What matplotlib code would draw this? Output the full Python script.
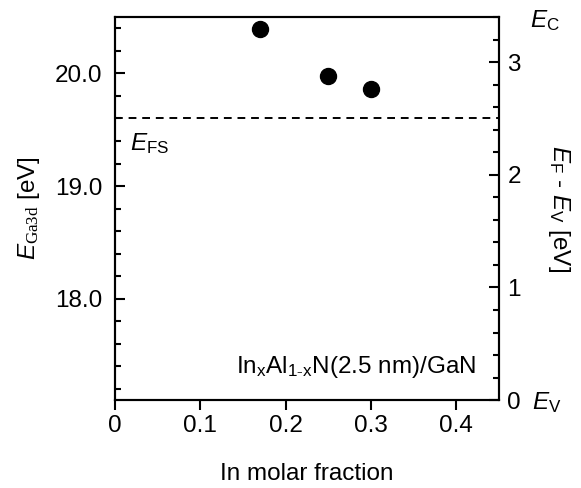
import matplotlib
matplotlib.use("Agg")
import matplotlib.pyplot as plt
from matplotlib.ticker import MultipleLocator

plt.rcParams['font.family'] = ['Liberation Sans', 'DejaVu Sans']
plt.rcParams['mathtext.fontset'] = 'custom'
plt.rcParams['mathtext.it'] = 'Liberation Sans:italic'
plt.rcParams['mathtext.sf'] = 'Liberation Sans'
plt.rcParams['mathtext.rm'] = 'Liberation Serif'

# data
in_fraction = [0.17, 0.25, 0.30]
e_ga3d = [20.39, 19.98, 19.865]
e_fs = 19.6
offset = 17.1  # E_Ga3d value corresponding to E_V (0 eV)
x_ticks = [0, 0.1, 0.2, 0.3, 0.4]
x_ticklabels = ['0', '0.1', '0.2', '0.3', '0.4']
left_ticks = [18.0, 19.0, 20.0]
right_ticks = [0, 1, 2, 3]

fs = 17.5

fig = plt.figure(figsize=(5.81, 4.88), dpi=100)
ax = fig.add_axes([0.198, 0.180, 0.661, 0.785])

ax.plot(in_fraction, e_ga3d, 'o', color='black', markersize=11.5)
ax.axhline(e_fs, color='black', linestyle='--', linewidth=1.4, dashes=(4, 3))

ax.set_xlim(0, 0.45)
ax.set_ylim(offset, offset + 3.4)
ax.set_xticks(x_ticks)
ax.set_xticklabels(x_ticklabels)
ax.set_yticks(left_ticks)
ax.set_yticklabels([f'{v:.1f}' for v in left_ticks])
ax.yaxis.set_minor_locator(MultipleLocator(0.2))

for s in ax.spines.values():
    s.set_linewidth(1.5)

ax.tick_params(axis='x', which='both', direction='out', length=7, width=1.5,
               labelsize=fs, pad=4, top=False)
ax.tick_params(axis='y', which='major', direction='in', length=7, width=1.5,
               labelsize=fs, pad=9, right=False)
ax.tick_params(axis='y', which='minor', direction='in', length=4, width=1.5,
               right=False)

ax2 = ax.twinx()
ax2.set_ylim(0, 3.4)
ax2.set_yticks(right_ticks)
ax2.yaxis.set_minor_locator(MultipleLocator(0.2))
ax2.tick_params(axis='y', which='major', direction='in', length=7, width=1.5,
                labelsize=fs, pad=6)
ax2.tick_params(axis='y', which='minor', direction='in', length=4, width=1.5)
for s in ax2.spines.values():
    s.set_linewidth(1.5)

ax.set_xlabel('In molar fraction', fontsize=fs)
ax.xaxis.set_label_coords(0.5, -0.165)
ax.set_ylabel(r'$\mathit{E}_{\mathrm{Ga3d}}$ [eV]', fontsize=fs)
ax.yaxis.set_label_coords(-0.19, 0.5)
ax2.set_ylabel(r'$\mathit{E}_{\mathsf{F}}$ - $\mathit{E}_{\mathsf{V}}$ [eV]',
               fontsize=fs, rotation=270, va='center')
ax2.yaxis.set_label_coords(1.155, 0.5)

ax.text(0.04, 0.67, r'$\mathit{E}_{\mathsf{FS}}$', transform=ax.transAxes,
        fontsize=fs, va='center', ha='left')
ax.text(1.08, 0.99, r'$\mathit{E}_{\mathsf{C}}$', transform=ax.transAxes,
        fontsize=fs, va='center', ha='left')
ax.text(1.085, -0.005, r'$\mathit{E}_{\mathsf{V}}$', transform=ax.transAxes,
        fontsize=fs, va='center', ha='left')
ax.text(0.94, 0.07, r'In$_{\mathsf{x}}$Al$_{\mathsf{1\text{-}x}}$N(2.5 nm)/GaN',
        transform=ax.transAxes, fontsize=fs, va='baseline', ha='right')

fig.savefig('out.png', dpi=100)
